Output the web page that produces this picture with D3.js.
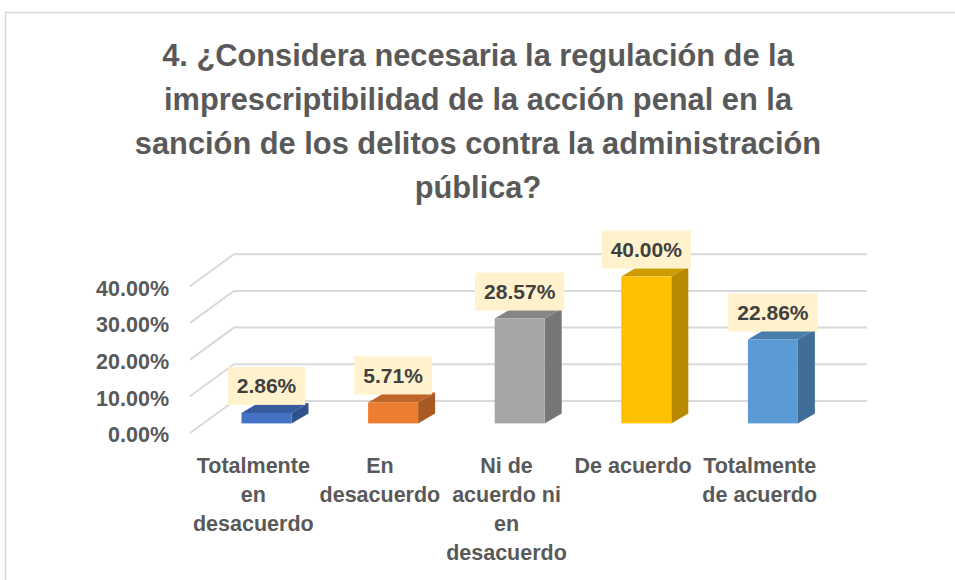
<!DOCTYPE html>
<html lang="es">
<head>
<meta charset="utf-8">
<script src="https://d3js.org/d3.v7.min.js"></script>
<style>
  body { margin: 0; background: #fff; }
  text { font-family: "Liberation Sans", Arial, sans-serif; font-weight: bold; }
  .title { fill: #595959; font-size: 30.8px; }
  .axis text { fill: #595959; font-size: 21.5px; }
  .axis path, .axis line { display: none; }
  .grid { stroke: #d9d9d9; stroke-width: 2; fill: none; }
  .lbl text { fill: #404040; font-size: 21px; }
</style>
</head>
<body>
<div id="chart"></div>
<script>
// data
var categories = ["Totalmente en desacuerdo", "En desacuerdo", "Ni de acuerdo ni en desacuerdo", "De acuerdo", "Totalmente de acuerdo"];
var values = [0.0286, 0.0571, 0.2857, 0.40, 0.2286];
var colors = ["#4472C4", "#ED7D31", "#A5A5A5", "#FFC000", "#5B9BD5"];
var yTicks = [0, 0.1, 0.2, 0.3, 0.4];
var titleLines = [
  "4. ¿Considera necesaria la regulación de la",
  "imprescriptibilidad de la acción penal en la",
  "sanción de los delitos contra la administración",
  "pública?"
];

var w = 955, h = 580;
// floor depth (oblique) and bar side depth
var DX = 44, DY = -32;
var SX = 17, SY = -10;
var barDepth = 0.3;

var svg = d3.select("#chart").append("svg").attr("width", w).attr("height", h);

// chart border
svg.append("rect").attr("x", 5.5).attr("y", 12.5).attr("width", 970).attr("height", 600)
  .attr("fill", "none").attr("stroke", "#d9d9d9").attr("stroke-width", 1.5);

// title
svg.selectAll("text.title").data(titleLines).enter().append("text")
  .attr("class", "title")
  .attr("x", 478)
  .attr("y", function(d, i) { return 66 + i * 44; })
  .attr("text-anchor", "middle")
  .text(function(d) { return d; });

var xScale = d3.scaleBand().domain(categories).range([190, 823])
  .paddingInner(0.605).paddingOuter(0.3025);
var yScale = d3.scaleLinear().domain([0, 0.4]).range([433, 286.2]);

// gridlines: left wall diagonal + back wall
var grid = svg.append("g");
yTicks.forEach(function(t) {
  var y0 = yScale(t);
  grid.append("path").attr("class", "grid")
    .attr("d", "M190," + y0 + "L" + (190 + DX) + "," + (y0 + DY) + "L" + (823 + DX) + "," + (y0 + DY));
});

// y axis labels
var yAxis = d3.axisLeft(yScale).tickValues(yTicks).tickSize(0).tickPadding(0)
  .tickFormat(function(d) { return d3.format(".2%")(d); });
svg.append("g").attr("class", "axis").attr("transform", "translate(169,2)").call(yAxis);

// bars
var bars = svg.selectAll("g.bar").data(values).enter().append("g").attr("class", "bar");
bars.each(function(v, i) {
  var g = d3.select(this);
  var c = d3.color(colors[i]);
  var bx = xScale(categories[i]) + barDepth * DX;
  var bw = xScale.bandwidth();
  var y0 = yScale(0) + barDepth * DY;
  var yv = yScale(v) + barDepth * DY;
  // side
  g.append("path")
    .attr("d", "M" + (bx + bw) + "," + yv + "L" + (bx + bw + SX) + "," + (yv + SY) +
      "L" + (bx + bw + SX) + "," + (y0 + SY) + "L" + (bx + bw) + "," + y0 + "Z")
    .attr("fill", c.darker(0.95));
  // top
  g.append("path")
    .attr("d", "M" + bx + "," + yv + "L" + (bx + bw) + "," + yv + "L" + (bx + bw + SX) + "," + (yv + SY) +
      "L" + (bx + SX) + "," + (yv + SY) + "Z")
    .attr("fill", c.darker(0.6));
  // front
  g.append("rect").attr("x", bx).attr("y", yv).attr("width", bw).attr("height", y0 - yv)
    .attr("fill", colors[i]);
});

// value labels
var lbl = svg.selectAll("g.lbl").data(values).enter().append("g").attr("class", "lbl");
lbl.each(function(v, i) {
  var g = d3.select(this);
  var cx = xScale(categories[i]) + barDepth * DX + xScale.bandwidth() / 2;
  var bottom = yScale(v) + barDepth * DY - 8;
  var cy = bottom - 19;
  var rect = g.append("rect").attr("fill", "#FFF2CC");
  var t = g.append("text").attr("x", cx).attr("y", cy + 7.5).attr("text-anchor", "middle")
    .text(d3.format(".2%")(v));
  var tw = t.node().getComputedTextLength();
  rect.attr("x", cx - tw / 2 - 9).attr("y", bottom - 38).attr("width", tw + 18).attr("height", 38);
});

// category labels along the front of the floor
var xAxis = d3.axisBottom(xScale).tickSize(0).tickPadding(0);
var xg = svg.append("g").attr("class", "axis").attr("transform", "translate(0,458)").call(xAxis);
xg.selectAll(".tick text").call(wrap, xScale.step());

function wrap(texts, width) {
  texts.each(function() {
    var text = d3.select(this);
    var words = text.text().split(/\s+/);
    text.text(null).attr("dy", null);
    var line = [], lineNo = 0;
    var tspan = text.append("tspan").attr("x", 0).attr("y", 15);
    words.forEach(function(word) {
      line.push(word);
      tspan.text(line.join(" "));
      if (tspan.node().getComputedTextLength() > width && line.length > 1) {
        line.pop();
        tspan.text(line.join(" "));
        line = [word];
        lineNo++;
        tspan = text.append("tspan").attr("x", 0).attr("y", 15 + lineNo * 29).text(word);
      }
    });
  });
}
</script>
</body>
</html>
